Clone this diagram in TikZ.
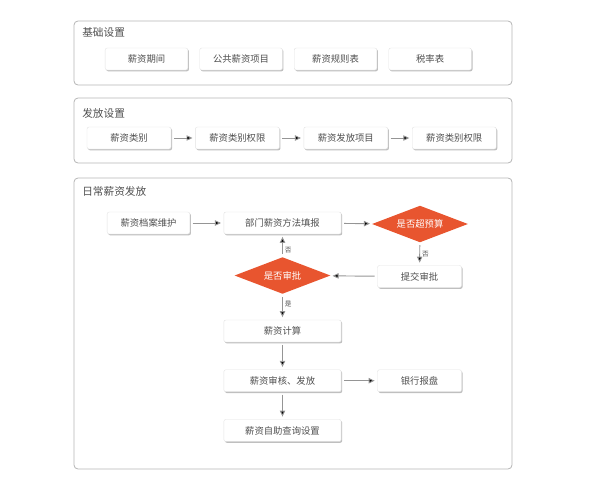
\documentclass[tikz,border=0pt]{standalone}
\usepackage{fontspec}
\usepackage{tikz}
\usetikzlibrary{calc,positioning,shapes,shadows,arrows.meta}
\newfontfamily\cjk{Noto Sans CJK SC}
\definecolor{frameline}{HTML}{B4B4B4}
\definecolor{boxline}{HTML}{E2E2E2}
\definecolor{txt}{HTML}{505050}
\definecolor{judge}{HTML}{E8552F}
\definecolor{arr}{HTML}{959595}
\tikzset{
	kuang/.style={draw=frameline,rounded corners=3pt,line width=0.6pt},
	biaoti/.style={font=\cjk\fontsize{8}{9}\selectfont,text=txt,anchor=west,inner sep=0pt},
	he/.style={draw=boxline,fill=white,rounded corners=1.5pt,line width=0.3pt,minimum height=16.5pt,inner sep=1pt,font=\cjk\fontsize{7}{8}\selectfont,text=txt,drop shadow={shadow xshift=0.8pt,shadow yshift=-1pt,opacity=0.25,fill=black}},
	pan/.style={diamond,aspect=2.6,fill=judge,text=white,minimum width=72pt,minimum height=27.5pt,inner sep=0pt,font=\cjk\fontsize{7}{8}\selectfont},
	jt/.style={draw=arr,line width=0.7pt,-{Triangle[length=4.5pt,width=4pt]},shorten <=2pt,shorten >=2pt},
	zi/.style={font=\cjk\fontsize{5}{6}\selectfont,text=txt,inner sep=1.5pt}
}
\begin{document}
\begin{tikzpicture}[x=0.75pt,y=-0.75pt]
		\useasboundingbox (0,0) rectangle (594,497);
		\draw[kuang] (74,21) rectangle (512,85);
		\draw[kuang] (74,98) rectangle (512,163);
		\draw[kuang] (74,178) rectangle (512,469);
		\node(t1) [biaoti] at (82,32) {基础设置};
		\node(t2) [biaoti] at (82,113) {发放设置};
		\node(t3) [biaoti] at (82,191) {日常薪资发放};
		\node(j1) [he,minimum width=62pt] at (146.5,59) {薪资期间};
		\node(j2) [he,minimum width=62pt,right=8.6pt of j1] {公共薪资项目};
		\node(j3) [he,minimum width=62pt,right=8.6pt of j2] {薪资规则表};
		\node(j4) [he,minimum width=62pt,right=8.6pt of j3] {税率表};
		\node(f1) [he,minimum width=63pt] at (129,138) {薪资类别};
		\node(f2) [he,minimum width=63pt,right=18pt of f1] {薪资类别权限};
		\node(f3) [he,minimum width=63pt,right=18pt of f2] {薪资发放项目};
		\node(f4) [he,minimum width=63pt,right=18pt of f3] {薪资类别权限};
		\path[jt]
			(f1) edge (f2)
			(f2) edge (f3)
			(f3) edge (f4);
		\node(r1) [he,minimum width=62pt] at (148.5,223) {薪资档案维护};
		\node(r2) [he,minimum width=88pt] at (282.5,223) {部门薪资方法填报};
		\node(p1) [pan] at (420,224) {是否超预算};
		\node(r3) [he,minimum width=63pt] at (419.5,276.5) {提交审批};
		\node(p2) [pan] at (282.5,275.5) {是否审批};
		\node(r4) [he,minimum width=88pt] at (282.5,331) {薪资计算};
		\node(r5) [he,minimum width=88pt,below=20.5pt of r4] {薪资审核、发放};
		\node(r7) [he,minimum width=88pt,below=20.5pt of r5] {薪资自助查询设置};
		\node(r6) [he,minimum width=63pt] at (r3 |- r5) {银行报盘};
		\path[jt]
			(r1) edge (r2)
			(r2) edge (p1)
			(p1) edge node[zi,right] {否} (r3)
			(r3) edge (p2)
			(p2) edge node[zi,right,pos=0.3] {否} (r2)
			(p2) edge node[zi,right,pos=0.4] {是} (r4)
			(r4) edge (r5)
			(r5) edge (r6)
			(r5) edge (r7);
\end{tikzpicture}
\end{document}
